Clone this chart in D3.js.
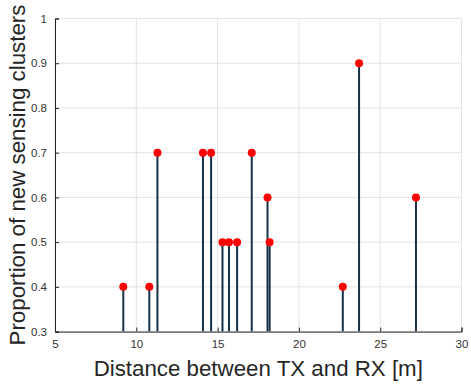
<!DOCTYPE html>
<html><head><meta charset="utf-8">
<script src="https://cdn.jsdelivr.net/npm/d3@7"></script>
<style>body{margin:0;background:#fff}svg{display:block}</style>
</head><body>
<script>
const distances = [9.2, 10.8, 11.3, 14.1, 14.6, 15.3, 15.7, 16.2, 17.1, 18.07, 18.2, 22.7, 23.7, 27.2];
const proportions = [0.4, 0.4, 0.7, 0.7, 0.7, 0.5, 0.5, 0.5, 0.7, 0.6, 0.5, 0.4, 0.9, 0.6];
const xTicks = [5, 10, 15, 20, 25, 30];
const yTicks = [0.3, 0.4, 0.5, 0.6, 0.7, 0.8, 0.9, 1];
const xLabel = "Distance between TX and RX [m]";
const yLabel = "Proportion of new sensing clusters";

const W = 471, H = 385;
const m = {l: 55, r: 10, t: 18.5, b: 53.5};
const svg = d3.select("body").append("svg").attr("width", W).attr("height", H);
const x = d3.scaleLinear().domain([5, 30]).range([m.l, W - m.r + 0.5]);
const y = d3.scaleLinear().domain([0.3, 1]).range([H - m.b + 0.1, m.t]);

const font = "'Liberation Sans', Arial, sans-serif";
// grid
svg.append("g").selectAll("line").data(xTicks).join("line")
  .attr("x1", d => x(d)).attr("x2", d => x(d)).attr("y1", y(0.3)).attr("y2", y(1))
  .attr("stroke", "#e3e3e3").attr("stroke-width", 1);
svg.append("g").selectAll("line").data(yTicks).join("line")
  .attr("y1", d => y(d)).attr("y2", d => y(d)).attr("x1", x(5)).attr("x2", x(30))
  .attr("stroke", "#e3e3e3").attr("stroke-width", 1);

// stems
const clipId = "clip";
svg.append("clipPath").attr("id", clipId).append("rect")
  .attr("x", x(5)).attr("y", y(1) - 10).attr("width", x(30) - x(5)).attr("height", y(0.3) - y(1) + 10);
const data = distances.map((d, i) => ({d, p: proportions[i]}));
const g = svg.append("g").attr("clip-path", `url(#${clipId})`);
g.selectAll("line").data(data).join("line")
  .attr("x1", d => x(d.d)).attr("x2", d => x(d.d))
  .attr("y1", y(0.3)).attr("y2", d => y(d.p))
  .attr("stroke", "#183048").attr("stroke-width", 2);

// axes
const xAxis = d3.axisBottom(x).tickValues(xTicks).tickSize(-4).tickPadding(8).tickFormat(d3.format("d"));
const yAxis = d3.axisLeft(y).tickValues(yTicks).tickSize(-4).tickPadding(8).tickFormat(d => d === 1 ? "1" : d3.format(".1f")(d));
const gx = svg.append("g").attr("transform", `translate(0,${y(0.3)})`).call(xAxis);
const gy = svg.append("g").attr("transform", `translate(${x(5)},0)`).call(yAxis);
[gx, gy].forEach(a => {
  a.select(".domain").attr("stroke", "#262626");
  a.selectAll(".tick line").attr("stroke", "#262626");
  a.selectAll("text").attr("fill", "#333").attr("font-family", font).attr("font-size", 11.5);
});

// markers
svg.append("g").selectAll("circle").data(data).join("circle")
  .attr("cx", d => x(d.d)).attr("cy", d => y(d.p)).attr("r", 4)
  .attr("fill", "#ff0000");

// labels
svg.append("text").attr("x", (x(5) + x(30)) / 2).attr("y", 376)
  .attr("text-anchor", "middle").attr("font-family", font).attr("font-size", 22.3)
  .attr("fill", "#262626").text(xLabel);
svg.append("text").attr("transform", `translate(25,${(y(0.3) + y(1)) / 2}) rotate(-90)`)
  .attr("text-anchor", "middle").attr("font-family", font).attr("font-size", 22.3)
  .attr("fill", "#262626").text(yLabel);
</script>
</body></html>
